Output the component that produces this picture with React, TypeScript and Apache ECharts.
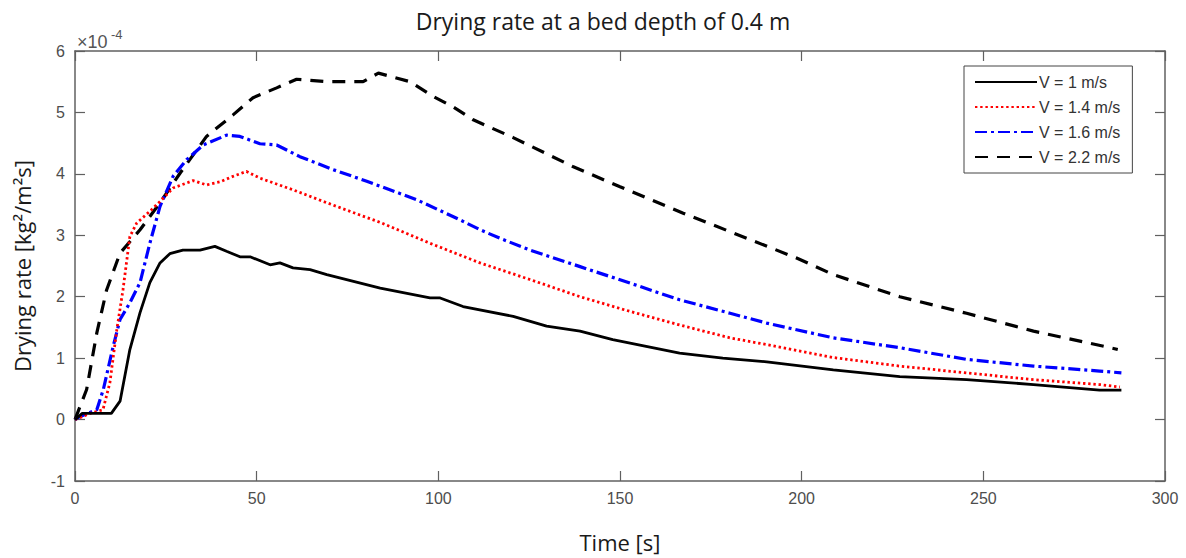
import React, { useEffect, useRef } from "react";
import * as echarts from "echarts";

const seriesNames = ["V = 1 m/s", "V = 1.4 m/s", "V = 1.6 m/s", "V = 2.2 m/s"];

const tV1 = [0, 2, 10, 12.4, 15.1, 17.9, 20.6, 23.4, 26.1, 29.7, 34.4, 38.5, 41.7, 45.4, 48.2, 53.7, 56.4, 60, 64.7, 69.3, 84, 97.7, 100.5, 106.8, 120.6, 129.8, 139, 148, 157.2, 166.4, 178.3, 190.4, 208.7, 227, 245.4, 263.8, 282, 288];
const vV1 = [0, 0.1, 0.1, 0.3, 1.14, 1.74, 2.23, 2.55, 2.7, 2.76, 2.76, 2.82, 2.74, 2.65, 2.65, 2.52, 2.55, 2.47, 2.44, 2.36, 2.14, 1.98, 1.98, 1.84, 1.68, 1.52, 1.44, 1.3, 1.19, 1.08, 1.0, 0.94, 0.81, 0.7, 0.65, 0.57, 0.48, 0.48];

const tV14 = [0, 4.1, 7.7, 9.6, 11.5, 13.2, 15.1, 17, 20.6, 23.4, 27, 32.5, 36.2, 39.9, 43.5, 47.2, 50.9, 60, 69.3, 78.4, 84, 97.7, 111.5, 125.2, 139, 152.8, 166.4, 180.3, 190.4, 208.7, 227, 245.4, 263.8, 282, 287.6];
const vV14 = [0, 0.1, 0.16, 0.6, 1.46, 2.11, 2.98, 3.2, 3.39, 3.55, 3.77, 3.89, 3.82, 3.87, 3.96, 4.04, 3.93, 3.74, 3.53, 3.33, 3.21, 2.87, 2.55, 2.28, 2.0, 1.76, 1.54, 1.33, 1.22, 1.01, 0.87, 0.76, 0.65, 0.57, 0.53];

const tV16 = [0, 1.4, 6, 7.8, 10.5, 12.4, 15.1, 17.9, 20.6, 23.4, 27, 30.7, 35.3, 41.7, 45.4, 50.9, 55.5, 61.9, 71, 80.3, 94, 106, 111.5, 117, 125.2, 139, 152.8, 166.4, 180.3, 190.4, 208.7, 227, 245.4, 263.8, 282, 288];
const vV16 = [0, 0.05, 0.16, 0.49, 1.19, 1.63, 1.9, 2.23, 2.87, 3.47, 3.96, 4.23, 4.47, 4.63, 4.61, 4.49, 4.47, 4.28, 4.07, 3.88, 3.58, 3.25, 3.09, 2.95, 2.76, 2.49, 2.22, 1.95, 1.73, 1.57, 1.33, 1.17, 0.98, 0.87, 0.79, 0.76];

const tV22 = [0, 3.2, 6, 8.7, 12.4, 17.9, 23.4, 28.9, 36.2, 43.5, 49, 55.5, 61, 69.3, 79.3, 83.5, 92.2, 98.6, 104.1, 109.6, 120.6, 137, 150, 167.4, 185.8, 198.6, 208.7, 227, 245.4, 263.8, 284.9, 287];
const vV22 = [0, 0.49, 1.41, 2.11, 2.71, 3.09, 3.53, 4.01, 4.61, 4.96, 5.24, 5.4, 5.54, 5.5, 5.5, 5.64, 5.5, 5.26, 5.09, 4.88, 4.59, 4.12, 3.79, 3.36, 2.93, 2.63, 2.36, 2.0, 1.73, 1.44, 1.17, 1.14];

const xTicks = [0, 50, 100, 150, 200, 250, 300];
const yTicks = [-1, 0, 1, 2, 3, 4, 5, 6];

const zip = (t: number[], v: number[]) => t.map((x, i) => [x, v[i]]);

export default function App() {
  const ref = useRef<HTMLDivElement>(null);
  useEffect(() => {
    document.body.style.margin = "0";
    if (!ref.current) return;
    const chart = echarts.init(ref.current, null, { renderer: "svg" });
    const axisColor = "#606060";
    const labelFont = { color: "#4d4d4d", fontSize: 16, fontFamily: "Liberation Sans" };
    const commonAxis = {
      axisLine: { show: true, onZero: false, lineStyle: { color: axisColor, width: 1.5 } },
      axisTick: { show: true, inside: true, length: 10, lineStyle: { color: axisColor, width: 1.2 } },
      splitLine: { show: false },
    };
    chart.setOption({
      animation: false,
      backgroundColor: "#ffffff",
      grid: { left: 75, right: 21, top: 51, bottom: 77 },
      xAxis: [
        {
          type: "value",
          min: xTicks[0],
          max: xTicks[xTicks.length - 1],
          interval: 50,
          position: "bottom",
          ...commonAxis,
          axisLabel: { ...labelFont, margin: 9 },
          name: "Time [s]",
          nameLocation: "middle",
          nameGap: 50,
          nameTextStyle: { fontFamily: "Open Sans", fontSize: 22, color: "#1a1a1a" },
        },
        {
          type: "value",
          min: xTicks[0],
          max: xTicks[xTicks.length - 1],
          interval: 50,
          position: "top",
          ...commonAxis,
          axisLabel: { show: false },
        },
      ],
      yAxis: [
        {
          type: "value",
          min: yTicks[0],
          max: yTicks[yTicks.length - 1],
          interval: 1,
          position: "left",
          ...commonAxis,
          axisLabel: { ...labelFont, margin: 10 },
          name: "Drying rate [kg\u00b2/m\u00b2s]",
          nameLocation: "middle",
          nameGap: 42,
          nameTextStyle: { fontFamily: "Open Sans", fontSize: 22, color: "#1a1a1a" },
        },
        {
          type: "value",
          min: yTicks[0],
          max: yTicks[yTicks.length - 1],
          interval: 1,
          position: "right",
          ...commonAxis,
          axisLabel: { show: false },
        },
      ],
      legend: {
        orient: "vertical",
        left: 964,
        top: 66,
        padding: [8, 12, 8, 10],
        itemGap: 9,
        itemWidth: 62,
        itemHeight: 16,
        backgroundColor: "#ffffff",
        borderColor: "#444",
        borderWidth: 1,
        borderRadius: 0,
        itemStyle: { opacity: 0 },
        textStyle: { fontFamily: "Liberation Sans", fontSize: 16, color: "#333", padding: [0, 0, 0, -3] },
        data: seriesNames,
      },
      graphic: [
        {
          type: "text",
          x: 603,
          y: 21,
          style: {
            text: "Drying rate at a bed depth of 0.4 m",
            fontFamily: "Open Sans",
            fontSize: 23,
            fill: "#1a1a1a",
            textAlign: "center",
            textVerticalAlign: "middle",
          },
        },
        {
          type: "text",
          x: 77,
          y: 42,
          style: {
            text: "\u00d710",
            fontFamily: "Liberation Sans",
            fontSize: 18,
            fill: "#555",
            textAlign: "left",
            textVerticalAlign: "middle",
          },
        },
        {
          type: "text",
          x: 111,
          y: 34,
          style: {
            text: "-4",
            fontFamily: "Liberation Sans",
            fontSize: 13,
            fill: "#555",
            textAlign: "left",
            textVerticalAlign: "middle",
          },
        },
      ],
      series: [
        {
          name: seriesNames[0],
          type: "line",
          data: zip(tV1, vV1),
          showSymbol: false,
          symbol: "none",
          color: "#000000",
          lineStyle: { color: "#000000", width: 2.8, type: "solid" },
          z: 4,
        },
        {
          name: seriesNames[1],
          type: "line",
          data: zip(tV14, vV14),
          showSymbol: false,
          symbol: "none",
          color: "#ff0000",
          lineStyle: { color: "#ff0000", width: 2.8, type: [2.4, 2.8] },
          z: 3,
        },
        {
          name: seriesNames[2],
          type: "line",
          data: zip(tV16, vV16),
          showSymbol: false,
          symbol: "none",
          color: "#0000ff",
          lineStyle: { color: "#0000ff", width: 3.2, type: [12, 4, 3, 4] },
          z: 2,
        },
        {
          name: seriesNames[3],
          type: "line",
          data: zip(tV22, vV22),
          showSymbol: false,
          symbol: "none",
          color: "#000000",
          lineStyle: { color: "#000000", width: 3.2, type: [13, 9] },
          z: 1,
        },
      ],
    });
    return () => chart.dispose();
  }, []);
  return <div ref={ref} style={{ width: 1186, height: 558 }} />;
}
